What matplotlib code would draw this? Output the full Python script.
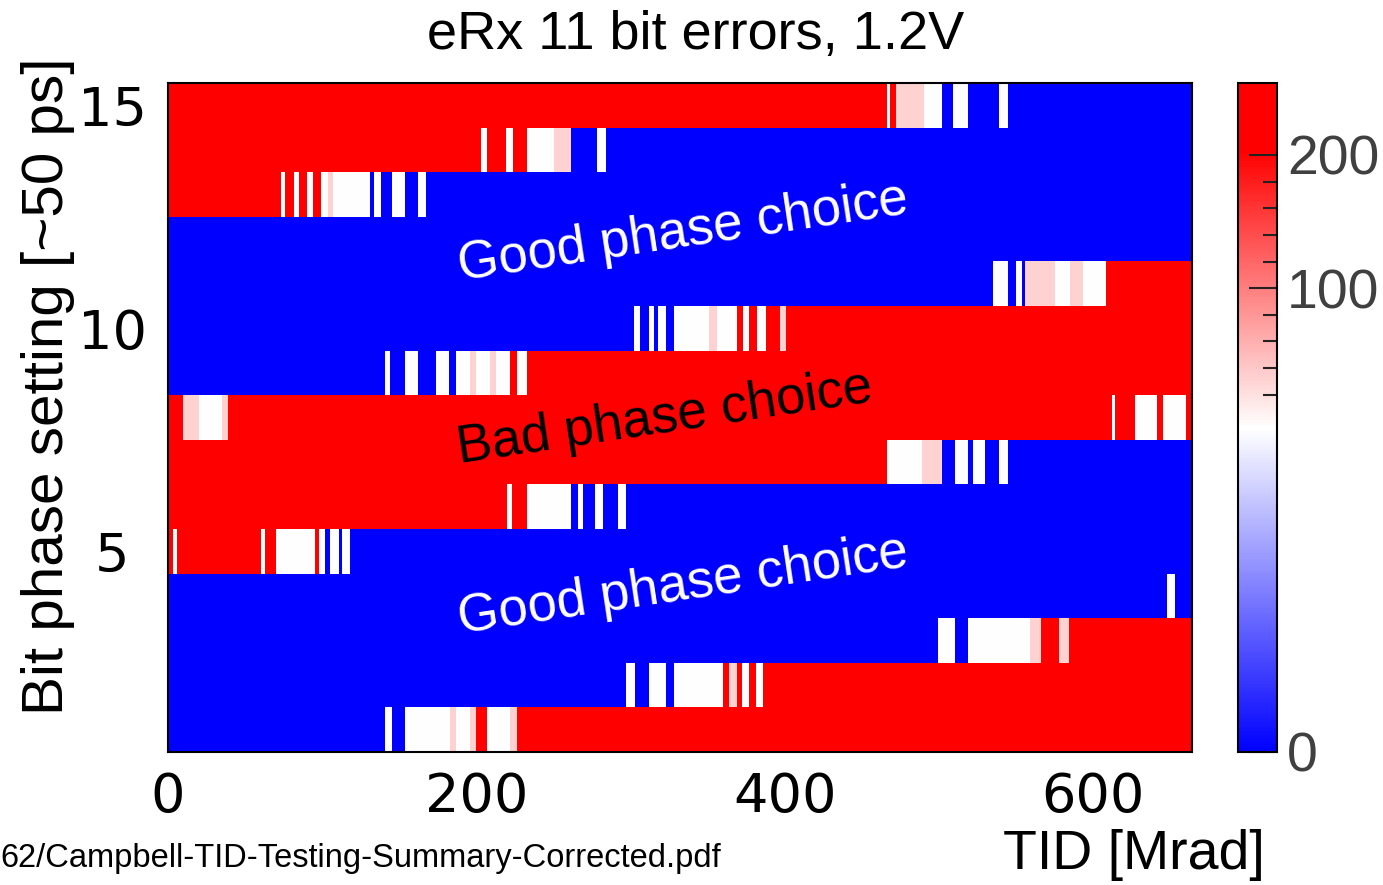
import numpy as np
import matplotlib
matplotlib.use('Agg')
import matplotlib.pyplot as plt
from matplotlib.colors import LinearSegmentedColormap, FuncNorm
from matplotlib.ticker import FixedLocator

# error counts
BLUE = 0
WHITE = 18
PINK = 32
RED = 250

TID_MAX = 664

# (TID start, TID end, bit errors) for every bit phase setting
phase_15 = [(0, 466, RED), (466, 468, WHITE), (468, 472, RED), (472, 490, PINK), (490, 502, WHITE),
            (502, 509, BLUE), (509, 519, WHITE), (519, 539, BLUE), (539, 545, WHITE), (545, 664, BLUE)]
phase_14 = [(0, 203, RED), (203, 207, WHITE), (207, 219, RED), (219, 224, WHITE), (224, 233, RED),
            (233, 250, WHITE), (250, 261, PINK), (261, 278, BLUE), (278, 284, WHITE), (284, 664, BLUE)]
phase_13 = [(0, 73.5, RED), (73.5, 76, WHITE), (76, 82, RED), (82, 85, WHITE), (85, 90, RED),
            (90, 94, WHITE), (94, 99, RED), (99, 103.5, WHITE), (103.5, 107, PINK), (107, 131, WHITE),
            (131, 133.5, BLUE), (133.5, 138, WHITE), (138, 145, BLUE), (145, 154, WHITE),
            (154, 162, BLUE), (162, 167, WHITE), (167, 664, BLUE)]
phase_12 = [(0, 664, BLUE)]
phase_11 = [(0, 535, BLUE), (535, 545, WHITE), (545, 550, BLUE), (550, 554, WHITE), (554, 556, BLUE),
            (556, 575, PINK), (575, 585, WHITE), (585, 593, PINK), (593, 608, WHITE), (608, 664, RED)]
phase_10 = [(0, 302, BLUE), (302, 306, WHITE), (306, 312, BLUE), (312, 315, WHITE), (315, 318, BLUE),
            (318, 323, WHITE), (323, 328, BLUE), (328, 351, WHITE), (351, 356, PINK), (356, 369, WHITE),
            (369, 373, RED), (373, 377, WHITE), (377, 382, RED), (382, 388, WHITE), (388, 397, RED),
            (397, 401, PINK), (401, 664, RED)]
phase_9 = [(0, 141, BLUE), (141, 144, WHITE), (144, 154, BLUE), (154, 162, WHITE), (162, 174, BLUE),
           (174, 182, WHITE), (182, 187, BLUE), (187, 196, WHITE), (196, 200, PINK), (200, 209, WHITE),
           (209, 213, PINK), (213, 222, WHITE), (222, 226, RED), (226, 233, WHITE), (233, 664, RED)]
phase_8 = [(0, 10, RED), (10, 20, PINK), (20, 35, WHITE), (35, 39, PINK), (39, 612, RED),
           (612, 614, WHITE), (614, 627, RED), (627, 641, WHITE), (641, 645, RED), (645, 660, WHITE),
           (660, 664, RED)]
phase_7 = [(0, 466, RED), (466, 489, WHITE), (489, 502, PINK), (502, 510, BLUE), (510, 519, WHITE),
           (519, 522, BLUE), (522, 530, WHITE), (530, 539, BLUE), (539, 545, WHITE), (545, 664, BLUE)]
phase_6 = [(0, 220, RED), (220, 223, WHITE), (223, 233, RED), (233, 261, WHITE), (261, 266, BLUE),
           (266, 269, WHITE), (269, 277, BLUE), (277, 282, WHITE), (282, 292, BLUE), (292, 297, WHITE),
           (297, 664, BLUE)]
phase_5 = [(0, 3, RED), (3, 6, WHITE), (6, 60.5, RED), (60.5, 63, WHITE), (63, 70, RED),
           (70, 95, WHITE), (95, 98, RED), (98, 102, WHITE), (102, 105, BLUE), (105, 111, WHITE),
           (111, 113, BLUE), (113, 118, WHITE), (118, 664, BLUE)]
phase_4 = [(0, 648, BLUE), (648, 653, WHITE), (653, 664, BLUE)]
phase_3 = [(0, 499, BLUE), (499, 510, WHITE), (510, 519, BLUE), (519, 559, WHITE), (559, 566, PINK),
           (566, 578, RED), (578, 584, PINK), (584, 664, RED)]
phase_2 = [(0, 297, BLUE), (297, 303, WHITE), (303, 312, BLUE), (312, 323, WHITE), (323, 328, BLUE),
           (328, 360, WHITE), (360, 364, RED), (364, 369, PINK), (369, 372, RED), (372, 377, WHITE),
           (377, 381, RED), (381, 386, WHITE), (386, 664, RED)]
phase_1 = [(0, 141, BLUE), (141, 145, WHITE), (145, 154, BLUE), (154, 183, WHITE), (183, 187, PINK),
           (187, 196, WHITE), (196, 200, PINK), (200, 207, RED), (207, 222, WHITE), (222, 226, PINK),
           (226, 664, RED)]

phase_rows = [phase_1, phase_2, phase_3, phase_4, phase_5, phase_6, phase_7, phase_8,
              phase_9, phase_10, phase_11, phase_12, phase_13, phase_14, phase_15]

x_ticks = [0, 200, 400, 600]
y_ticks = [5, 10, 15]
cbar_ticks = [0, 100, 200]
cbar_minor = [20, 40, 60, 80, 120, 140, 160, 180]


def main():
    # fill a fine TID grid from the segments
    step = 0.5
    centers = np.arange(0, TID_MAX, step) + step / 2
    grid = np.zeros((len(phase_rows), len(centers)))
    for r, segs in enumerate(phase_rows):
        for start, end, val in segs:
            grid[r, (centers >= start) & (centers < end)] = val

    cmap = LinearSegmentedColormap.from_list(
        'bwr_root', [(0, '#0000ff'), (0.484, '#ffffff'), (0.9, '#ff0000'), (1, '#ff0000')])
    fwd_x, fwd_y = [0, 20, 254], [0, 0.534, 1.0]
    norm = FuncNorm((lambda v: np.interp(v, fwd_x, fwd_y),
                     lambda f: np.interp(f, fwd_y, fwd_x)), vmin=0, vmax=254)

    fig = plt.figure(figsize=(13.83, 8.85), dpi=100)
    ax = fig.add_axes([0.1215, 0.1503, 0.7404, 0.7559])
    cax = fig.add_axes([0.8952, 0.1503, 0.0282, 0.7559])

    im = ax.imshow(grid, extent=[0, TID_MAX, 0.5, 15.5], origin='lower', aspect='auto',
                   interpolation='nearest', cmap=cmap, norm=norm)
    ax.set_xlim(0, TID_MAX)
    ax.set_ylim(0.5, 15.5)
    ax.set_xticks(x_ticks)
    ax.set_yticks(y_ticks)
    ax.tick_params(length=0, labelsize=39)
    ax.tick_params(axis='x', pad=14)
    ax.tick_params(axis='y', pad=40)
    for lab in ax.get_xticklabels():
        lab.set_family('DejaVu Sans')
    for lab in ax.get_yticklabels():
        lab.set_family('DejaVu Sans')
        lab.set_horizontalalignment('center')
    for sp in ax.spines.values():
        sp.set_linewidth(1.5)

    sans = 'Liberation Sans'
    ax.text(334, 12.14, 'Good phase choice', color='white', fontsize=38, family=sans,
            rotation=8.5, ha='center', va='center', rotation_mode='anchor')
    ax.text(322, 7.99, 'Bad phase choice', color='black', fontsize=38, family=sans,
            rotation=8.5, ha='center', va='center', rotation_mode='anchor')
    ax.text(334, 4.24, 'Good phase choice', color='white', fontsize=38, family=sans,
            rotation=8.5, ha='center', va='center', rotation_mode='anchor')

    cb = fig.colorbar(im, cax=cax)
    cb.set_ticks(cbar_ticks)
    cb.ax.yaxis.set_minor_locator(FixedLocator(cbar_minor))
    cb.ax.tick_params(which='major', direction='in', length=20, width=1.5, color='#222222',
                      labelsize=40, labelcolor='#404040', pad=7)
    cb.ax.tick_params(which='minor', direction='in', length=10, width=1.5, color='#222222')
    for lab in cb.ax.get_yticklabels():
        lab.set_family(sans)
    cb.outline.set_linewidth(1.5)

    fig.text(696 / 1383, 1 - 35 / 885, 'eRx 11 bit errors, 1.2V', fontsize=39, family=sans,
             ha='center', va='center')
    fig.text(48 / 1383, 1 - 386 / 885, 'Bit phase setting [~50 ps]', fontsize=42, family=sans,
             rotation=90, ha='center', va='center')
    fig.text(1134 / 1383, 1 - 855 / 885, 'TID [Mrad]', fontsize=40, family=sans,
             ha='center', va='center')
    fig.text(0, 1 - 858 / 885, '62/Campbell-TID-Testing-Summary-Corrected.pdf', fontsize=23.5,
             family=sans, ha='left', va='center')

    fig.savefig('out.png', dpi=100)


if __name__ == '__main__':
    main()
